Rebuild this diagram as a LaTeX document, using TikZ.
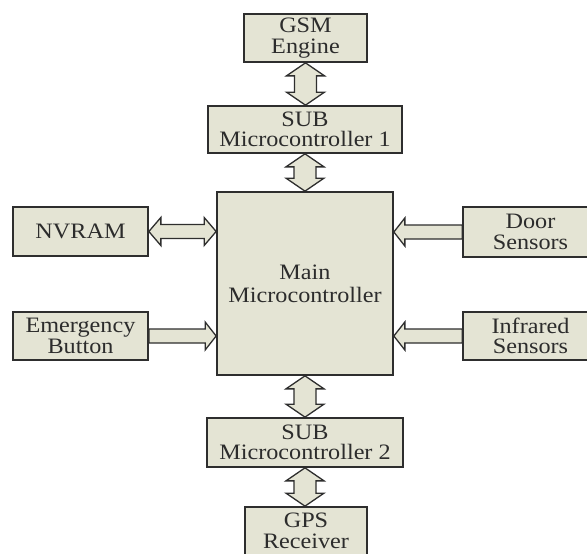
\documentclass[tikz,border=0pt]{standalone}
\usepackage{fontspec}
\setmainfont{Liberation Serif}[FakeStretch=1.1]
\usetikzlibrary{calc}
\definecolor{boxfill}{HTML}{E4E4D4}
\definecolor{edgecol}{HTML}{2E2E2E}
\definecolor{txtcol}{HTML}{2C2C2C}
\tikzset{
  blk/.style={draw=edgecol, fill=boxfill, line width=1.7pt, text=txtcol, align=center,
    inner sep=0pt, font=\fontsize{22}{20.5}\selectfont},
  fat/.style={draw=edgecol, fill=boxfill, line width=1.3pt, line join=miter},
}
\newcommand\vdarrow[2]{%
  \draw[fat] let \p1=(#1.south), \p2=(#2.north) in
    (\x1,\y1) -- (\x1+19pt,\y1-13pt) -- (\x1+11pt,\y1-13pt) -- (\x1+11pt,\y2+13pt)
    -- (\x1+19pt,\y2+13pt) -- (\x1,\y2) -- (\x1-19pt,\y2+13pt) -- (\x1-11pt,\y2+13pt)
    -- (\x1-11pt,\y1-13pt) -- (\x1-19pt,\y1-13pt) -- cycle;}
\newcommand\hdarrow[2]{%
  \draw[fat] let \p1=(#1.east), \p2=(#2.west |- #1.east) in
    (\x1,\y1) -- (\x1+12pt,\y1+14pt) -- (\x1+12pt,\y1+7pt) -- (\x2-12pt,\y1+7pt)
    -- (\x2-12pt,\y1+14pt) -- (\x2,\y1) -- (\x2-12pt,\y1-14pt) -- (\x2-12pt,\y1-7pt)
    -- (\x1+12pt,\y1-7pt) -- (\x1+12pt,\y1-14pt) -- cycle;}
\newcommand\rarrow[2]{%
  \draw[fat] let \p1=(#1.east), \p2=(#2.west |- #1.east) in
    (\x1,\y1+7pt) -- (\x2-11pt,\y1+7pt) -- (\x2-11pt,\y1+14pt) -- (\x2,\y1)
    -- (\x2-11pt,\y1-14pt) -- (\x2-11pt,\y1-7pt) -- (\x1,\y1-7pt) -- cycle;}
\newcommand\larrow[2]{%
  \draw[fat] let \p1=(#1.west), \p2=(#2.east |- #1.west) in
    (\x1,\y1+7pt) -- (\x2+11pt,\y1+7pt) -- (\x2+11pt,\y1+14pt) -- (\x2,\y1)
    -- (\x2+11pt,\y1-14pt) -- (\x2+11pt,\y1-7pt) -- (\x1,\y1-7pt) -- cycle;}
\begin{document}
\begin{tikzpicture}[x=1pt,y=-1pt]
\useasboundingbox (0,0) rectangle (587,554);
\clip (0,0) rectangle (587,554);
\fill[white] (0,0) rectangle (587,554);

\node[blk, minimum width=123pt, minimum height=48pt] (gsm) at (305.5,38) {GSM\\Engine};
\node[blk, minimum width=194pt, minimum height=47pt] (sub1) at (305,129.5) {SUB\\Microcontroller 1};
\node[blk, minimum width=176pt, minimum height=183pt, font=\fontsize{22}{23}\selectfont] (main) at (305,283.5) {Main\\Microcontroller};
\node[blk, minimum width=135pt, minimum height=49pt] (nvram) at (80.5,231.5) {NVRAM};
\node[blk, minimum width=135pt, minimum height=48pt] (emerg) at (80.5,336) {Emergency\\Button};
\node[blk, minimum width=135pt, minimum height=50pt] (door) at (530.5,232) {Door\\Sensors};
\node[blk, minimum width=135pt, minimum height=48pt] (infra) at (530.5,336) {Infrared\\Sensors};
\node[blk, minimum width=196pt, minimum height=49pt] (sub2) at (305,442.5) {SUB\\Microcontroller 2};
\node[blk, minimum width=122pt, minimum height=48pt] (gps) at (306,531) {GPS\\Receiver};

\vdarrow{gsm}{sub1}
\vdarrow{sub1}{main}
\vdarrow{main}{sub2}
\vdarrow{sub2}{gps}
\hdarrow{nvram}{main}
\rarrow{emerg}{main}
\larrow{door}{main}
\larrow{infra}{main}
\end{tikzpicture}
\end{document}
